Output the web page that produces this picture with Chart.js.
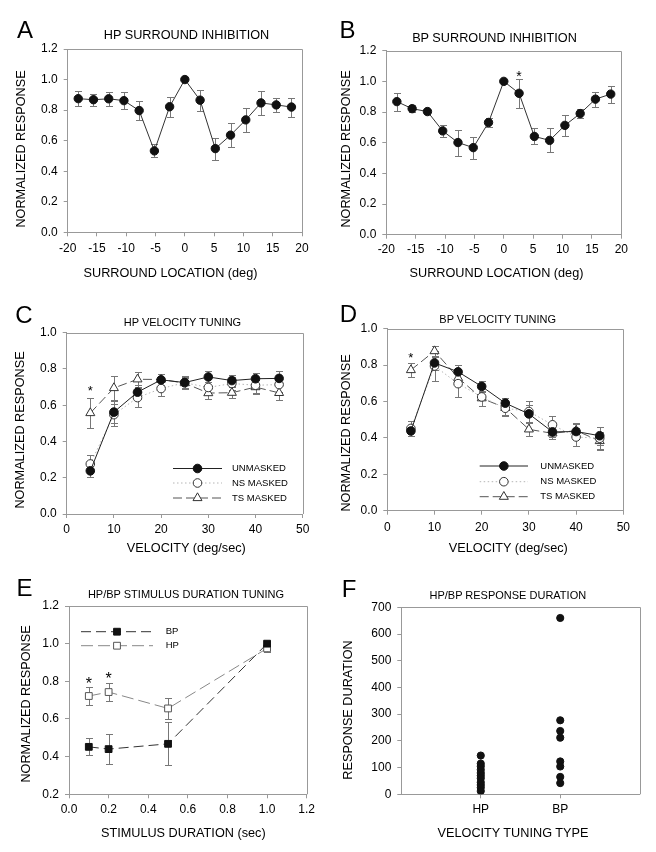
<!DOCTYPE html>
<html>
<head>
<meta charset="utf-8">
<script src="https://cdn.jsdelivr.net/npm/chart.js@4.4.0/dist/chart.umd.min.js"></script>
<style>
  body { margin: 0; background: #fff; }
  #fig { position: relative; width: 656px; height: 852px; font-family: "Liberation Sans", Arial, sans-serif; color: #000; }
  #fig canvas { position: absolute; }
  .t { position: absolute; transform: translate(-50%, -50%); white-space: nowrap; line-height: 1; }
  .letter { font-size: 24px; }
  .big { font-size: 12.7px; }
  .small { font-size: 11px; }
  .ax { font-size: 12.7px; }
  .ay { font-size: 12.7px; transform: translate(-50%, -50%) rotate(-90deg); }
</style>
</head>
<body>
<div id="fig">
  <canvas id="chartA"></canvas>
  <canvas id="chartB"></canvas>
  <canvas id="chartC"></canvas>
  <canvas id="chartD"></canvas>
  <canvas id="chartE"></canvas>
  <canvas id="chartF"></canvas>

  <div class="t letter" style="left:25px;top:29.5px">A</div>
  <div class="t letter" style="left:347.5px;top:30px">B</div>
  <div class="t letter" style="left:24px;top:315px">C</div>
  <div class="t letter" style="left:348.5px;top:313.5px">D</div>
  <div class="t letter" style="left:24.5px;top:587.5px">E</div>
  <div class="t letter" style="left:349px;top:588.5px">F</div>

  <div class="t big" style="left:186.5px;top:35px">HP SURROUND INHIBITION</div>
  <div class="t big" style="left:494.5px;top:37.7px">BP SURROUND INHIBITION</div>
  <div class="t small" style="left:182.5px;top:321.7px">HP VELOCITY TUNING</div>
  <div class="t small" style="left:497.7px;top:319.3px">BP VELOCITY TUNING</div>
  <div class="t small" style="left:186px;top:594px">HP/BP STIMULUS DURATION TUNING</div>
  <div class="t small" style="left:507.8px;top:595px">HP/BP RESPONSE DURATION</div>

  <div class="t ay" style="left:20.7px;top:149.2px">NORMALIZED RESPONSE</div>
  <div class="t ay" style="left:346.3px;top:148.5px">NORMALIZED RESPONSE</div>
  <div class="t ay" style="left:20px;top:430px">NORMALIZED RESPONSE</div>
  <div class="t ay" style="left:346.3px;top:432.5px">NORMALIZED RESPONSE</div>
  <div class="t ay" style="left:25.8px;top:704.2px">NORMALIZED RESPONSE</div>
  <div class="t ay" style="left:348px;top:710px">RESPONSE DURATION</div>

  <div class="t ax" style="left:170.5px;top:273px">SURROUND LOCATION (deg)</div>
  <div class="t ax" style="left:496.5px;top:273.3px">SURROUND LOCATION (deg)</div>
  <div class="t ax" style="left:186.3px;top:548.3px">VELOCITY (deg/sec)</div>
  <div class="t ax" style="left:508.3px;top:547.7px">VELOCITY (deg/sec)</div>
  <div class="t ax" style="left:183.3px;top:833.3px">STIMULUS DURATION (sec)</div>
  <div class="t ax" style="left:513px;top:833.3px">VELOCITY TUNING TYPE</div>
</div>
<script>
// surround inhibition (A, B)
var surroundLoc = [-18.2, -15.6, -13, -10.4, -7.8, -5.2, -2.6, 0, 2.6, 5.2, 7.8, 10.4, 13, 15.6, 18.2];
var hpSurround = [0.875, 0.868, 0.874, 0.862, 0.797, 0.533, 0.822, 1.0, 0.865, 0.548, 0.636, 0.736, 0.847, 0.834, 0.82];
var hpSurroundErr = [0.047, 0.040, 0.047, 0.058, 0.060, 0.043, 0.067, 0, 0.068, 0.072, 0.077, 0.080, 0.080, 0.047, 0.062];
var bpSurround = [0.868, 0.822, 0.803, 0.677, 0.601, 0.568, 0.732, 1.0, 0.922, 0.641, 0.615, 0.713, 0.79, 0.884, 0.917];
var bpSurroundErr = [0.058, 0.022, 0.018, 0.040, 0.085, 0.072, 0.028, 0, 0.093, 0.052, 0.078, 0.068, 0.030, 0.048, 0.055];
var starsB = [{ x: 2.6, y: 1.055 }];

// velocity tuning (C, D)
var velocities = [5, 10, 15, 20, 25, 30, 35, 40, 45];
var velLegend = ['UNMASKED', 'NS MASKED', 'TS MASKED'];
var hpUnmasked = [0.238, 0.562, 0.672, 0.74, 0.725, 0.756, 0.736, 0.746, 0.748];
var hpUnmaskedErr = [0.032, 0.06, 0.04, 0.03, 0.03, 0.03, 0.03, 0.03, 0.04];
var hpNs = [0.276, 0.548, 0.642, 0.692, 0.724, 0.698, 0.72, 0.71, 0.714];
var hpNsErr = [0.048, 0.06, 0.052, 0.04, 0.035, 0.03, 0.035, 0.04, 0.04];
var hpTs = [0.557, 0.695, 0.743, 0.742, 0.722, 0.667, 0.669, 0.70, 0.668];
var hpTsErr = [0.082, 0.065, 0.04, 0.03, 0.03, 0.035, 0.03, 0.04, 0.04];
var starsC = [{ x: 5, y: 0.70 }];
var bpUnmasked = [0.438, 0.812, 0.763, 0.683, 0.591, 0.532, 0.433, 0.435, 0.412];
var bpUnmaskedErr = [0.025, 0.04, 0.04, 0.03, 0.03, 0.05, 0.03, 0.04, 0.05];
var bpNs = [0.452, 0.795, 0.698, 0.625, 0.563, 0.545, 0.472, 0.405, 0.398];
var bpNsErr = [0.04, 0.08, 0.075, 0.05, 0.04, 0.055, 0.05, 0.05, 0.06];
var bpTs = [0.773, 0.877, 0.73, 0.618, 0.565, 0.447, 0.425, 0.44, 0.383];
var bpTsErr = [0.037, 0.03, 0.04, 0.04, 0.04, 0.035, 0.03, 0.04, 0.05];
var starsD = [{ x: 5, y: 0.86 }];

// stimulus duration (E)
var durations = [0.1, 0.2, 0.5, 1.0];
var durLegend = ['BP', 'HP'];
var bpDur = [0.452, 0.44, 0.468, 1.0];
var bpDurErr = [0.045, 0.08, 0.115, 0.01];
var hpDur = [0.722, 0.743, 0.656, 0.975];
var hpDurErr = [0.047, 0.05, 0.055, 0.02];
var starsE = [{ x: 0.1, y: 0.81 }, { x: 0.2, y: 0.835 }];

// response duration (F)
var tuningTypes = ['HP', 'BP'];
var hpRespDur = [145, 115, 105, 92, 80, 70, 60, 45, 35, 25, 12];
var bpRespDur = [660, 277, 237, 212, 123, 104, 65, 42];

Chart.defaults.font.family = '"Liberation Sans", Arial, sans-serif';
Chart.defaults.font.size = 12;
Chart.defaults.color = '#000';

var axisGray = '#999';

function pts(xs, ys) {
    return ys.map(function (v, i) { return { x: xs[i], y: v }; });
}

function oneDec(v) { return Number(v).toFixed(1); }

function linScale(min, max, step, fmt, pad) {
    return {
        type: 'linear', min: min, max: max,
        ticks: { stepSize: step, padding: pad, autoSkip: false, maxRotation: 0, callback: fmt, font: { size: 12 } },
        grid: { display: true, drawOnChartArea: false, drawTicks: true, tickLength: 4, color: axisGray },
        border: { display: true, color: axisGray }
    };
}

var frame = {
    id: 'frame',
    beforeDatasetsDraw: function (chart) {
        var a = chart.chartArea, c = chart.ctx;
        var r = Math.round(a.right) + 0.5, t = Math.round(a.top) + 0.5;
        c.save();
        c.strokeStyle = axisGray;
        c.lineWidth = 1;
        c.beginPath();
        c.moveTo(a.left, t); c.lineTo(r, t); c.lineTo(r, a.bottom);
        c.stroke();
        c.restore();
    }
};

var errorBars = {
    id: 'errorBars',
    beforeDatasetsDraw: function (chart) {
        var c = chart.ctx, xs = chart.scales.x, ys = chart.scales.y;
        chart.data.datasets.forEach(function (ds) {
            if (!ds.errorBars) return;
            c.save();
            c.strokeStyle = '#777';
            c.lineWidth = 1;
            ds.data.forEach(function (p, i) {
                var e = ds.errorBars[i];
                if (!e) return;
                var x = Math.round(xs.getPixelForValue(p.x)) + 0.5;
                var y1 = Math.round(ys.getPixelForValue(p.y - e)) + 0.5;
                var y2 = Math.round(ys.getPixelForValue(p.y + e)) + 0.5;
                c.beginPath();
                c.moveTo(x, y1); c.lineTo(x, y2);
                c.moveTo(x - 3.5, y1); c.lineTo(x + 3.5, y1);
                c.moveTo(x - 3.5, y2); c.lineTo(x + 3.5, y2);
                c.stroke();
            });
            c.restore();
        });
    }
};

var stars = {
    id: 'stars',
    afterDatasetsDraw: function (chart, args, opts) {
        if (!opts.points) return;
        var c = chart.ctx;
        c.save();
        c.fillStyle = '#000';
        c.font = opts.size + 'px "Liberation Sans"';
        c.textAlign = 'center';
        c.textBaseline = 'alphabetic';
        opts.points.forEach(function (p) {
            var x = chart.scales.x.getPixelForValue(p.x);
            var y = chart.scales.y.getPixelForValue(p.y);
            c.fillText('*', x, y + opts.size * 0.57);
        });
        c.restore();
    }
};

var lineLegend = {
    id: 'lineLegend',
    afterDatasetsDraw: function (chart, args, opts) {
        if (!opts.labels) return;
        var c = chart.ctx;
        opts.labels.forEach(function (label, i) {
            var ds = chart.data.datasets[i];
            var y = opts.rows[i];
            c.save();
            c.strokeStyle = ds.borderColor;
            c.lineWidth = 1;
            c.setLineDash(ds.borderDash || []);
            c.beginPath();
            c.moveTo(opts.x0, y); c.lineTo(opts.x1, y);
            c.stroke();
            c.setLineDash([]);
            c.fillStyle = ds.pointBackgroundColor;
            c.strokeStyle = ds.pointBorderColor;
            Chart.helpers.drawPoint(c, { pointStyle: ds.pointStyle, radius: ds.pointRadius, rotation: 0, borderWidth: 1 }, (opts.x0 + opts.x1) / 2, y);
            c.fillStyle = '#000';
            c.font = opts.size + 'px "Liberation Sans"';
            c.textBaseline = 'middle';
            c.fillText(label, opts.textX, y);
            c.restore();
        });
    }
};

// box = canvas [left, top, w, h] on the page, area = plot area [left, top, right, bottom]
function panel(id, box, area, xScale, yScale, datasets, extra) {
    var cv = document.getElementById(id);
    cv.style.left = box[0] + 'px';
    cv.style.top = box[1] + 'px';
    cv.width = box[2];
    cv.height = box[3];
    var yW = area[0] - box[0];
    var xH = box[1] + box[3] - area[3];
    xScale.afterFit = function (s) { s.height = xH; s.paddingLeft = 0; s.paddingRight = 0; };
    yScale.afterFit = function (s) { s.width = yW; s.paddingTop = 0; s.paddingBottom = 0; };
    var plugins = { legend: { display: false }, tooltip: { enabled: false } };
    for (var k in extra) plugins[k] = extra[k];
    return new Chart(cv, {
        type: 'scatter',
        data: { datasets: datasets },
        options: {
            responsive: false,
            animation: false,
            events: [],
            layout: { padding: { left: 0, top: area[1] - box[1], right: box[0] + box[2] - area[2], bottom: 0 } },
            scales: { x: xScale, y: yScale },
            plugins: plugins
        },
        plugins: [frame, errorBars, stars, lineLegend]
    });
}

function surroundSet(ys, err) {
    return [{
        data: pts(surroundLoc, ys), errorBars: err, showLine: true,
        borderColor: '#333', borderWidth: 1,
        pointRadius: 4.2, pointBackgroundColor: '#111', pointBorderColor: '#111', pointBorderWidth: 1
    }];
}

function velocitySets(un, unE, ns, nsE, ts, tsE) {
    return [{
        data: pts(velocities, un), errorBars: unE, showLine: true,
        borderColor: '#222', borderWidth: 1,
        pointStyle: 'circle', pointRadius: 4.3, pointBackgroundColor: '#111', pointBorderColor: '#111', pointBorderWidth: 1
    }, {
        data: pts(velocities, ns), errorBars: nsE, showLine: true,
        borderColor: '#b5b5b5', borderWidth: 1, borderDash: [1.5, 2.5],
        pointStyle: 'circle', pointRadius: 4.3, pointBackgroundColor: '#fff', pointBorderColor: '#333', pointBorderWidth: 1
    }, {
        data: pts(velocities, ts), errorBars: tsE, showLine: true,
        borderColor: '#555', borderWidth: 1, borderDash: [9, 4],
        pointStyle: 'triangle', pointRadius: 5.2, pointBackgroundColor: '#fff', pointBorderColor: '#333', pointBorderWidth: 1
    }];
}

panel('chartA', [0, 0, 328, 290], [67.7, 49, 302, 232.3],
    linScale(-20, 20, 5, undefined, 4.8), linScale(0, 1.2, 0.2, oneDec, 6),
    surroundSet(hpSurround, hpSurroundErr), {});

panel('chartB', [328, 0, 328, 290], [386.3, 50.7, 621.3, 234.7],
    linScale(-20, 20, 5, undefined, 4.1), linScale(0, 1.2, 0.2, oneDec, 6),
    surroundSet(bpSurround, bpSurroundErr), { stars: { points: starsB, size: 14 } });

panel('chartC', [0, 290, 328, 270], [66.7, 332.7, 302.7, 514],
    linScale(0, 50, 10, undefined, 4.8), linScale(0, 1.0, 0.2, oneDec, 6),
    velocitySets(hpUnmasked, hpUnmaskedErr, hpNs, hpNsErr, hpTs, hpTsErr),
    {
        stars: { points: starsC, size: 13 },
        lineLegend: { labels: velLegend, x0: 173, x1: 222, textX: 232, rows: [178.5, 193, 208], size: 9.5 }
    });

panel('chartD', [328, 290, 328, 270], [387.3, 328.7, 623.3, 510.7],
    linScale(0, 50, 10, undefined, 6), linScale(0, 1.0, 0.2, oneDec, 6),
    velocitySets(bpUnmasked, bpUnmaskedErr, bpNs, bpNsErr, bpTs, bpTsErr),
    {
        stars: { points: starsD, size: 13 },
        lineLegend: { labels: velLegend, x0: 151.7, x1: 200, textX: 212.3, rows: [176, 191.7, 206.7], size: 9.5 }
    });

panel('chartE', [0, 560, 328, 292], [69, 606, 306.7, 794.3],
    linScale(0, 1.2, 0.2, oneDec, 3.8), linScale(0.2, 1.2, 0.2, oneDec, 6),
    [{
        data: pts(durations, bpDur), errorBars: bpDurErr, showLine: true,
        borderColor: '#333', borderWidth: 1, borderDash: [10, 5],
        pointStyle: 'rect', pointRadius: 4.8, pointBackgroundColor: '#111', pointBorderColor: '#111', pointBorderWidth: 1
    }, {
        data: pts(durations, hpDur), errorBars: hpDurErr, showLine: true,
        borderColor: '#888', borderWidth: 1, borderDash: [12, 5],
        pointStyle: 'rect', pointRadius: 4.8, pointBackgroundColor: '#fff', pointBorderColor: '#555', pointBorderWidth: 1
    }],
    {
        stars: { points: starsE, size: 16 },
        lineLegend: { labels: durLegend, x0: 81, x1: 153, textX: 165.7, rows: [71.7, 85.7], size: 9.5 }
    });

var xF = linScale(0, 3, 1, function (v) { return tuningTypes[v - 1]; }, 4.5);
xF.afterBuildTicks = function (s) { s.ticks = tuningTypes.map(function (t, i) { return { value: i + 1 }; }); };

panel('chartF', [328, 560, 328, 292], [401.3, 607.3, 639.7, 794.3],
    xF, linScale(0, 700, 100, undefined, 6),
    [{
        data: hpRespDur.map(function (v) { return { x: 1, y: v }; }),
        pointRadius: 3.6, pointBackgroundColor: '#111', pointBorderColor: '#111'
    }, {
        data: bpRespDur.map(function (v) { return { x: 2, y: v }; }),
        pointRadius: 3.6, pointBackgroundColor: '#111', pointBorderColor: '#111'
    }], {});
</script>
</body>
</html>
